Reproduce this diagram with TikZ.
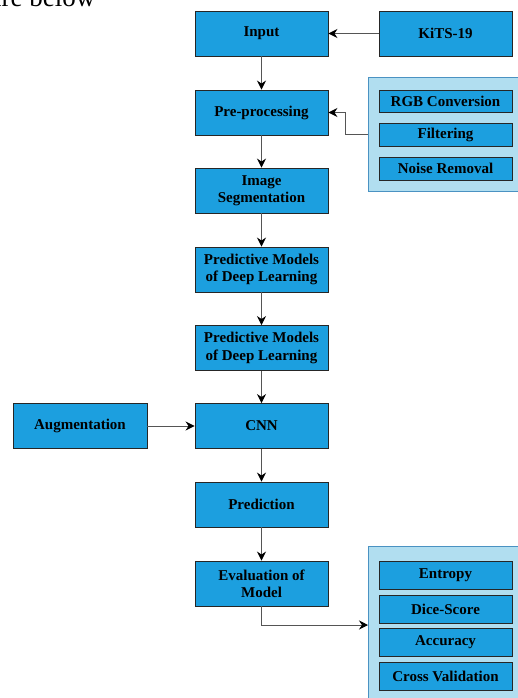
\documentclass[tikz,border=0pt]{standalone}
\usepackage{fontspec}
\setmainfont{Liberation Serif}
\usetikzlibrary{arrows.meta}
\definecolor{boxblue}{HTML}{1C9FDF}
\definecolor{panelblue}{HTML}{B1DEF0}
\definecolor{paneledge}{HTML}{4A92C2}
\definecolor{linegray}{HTML}{555555}
\begin{document}
\begin{tikzpicture}[x=1pt,y=-1pt,
  blk/.style={draw=black!85,line width=0.9pt,fill=boxblue,minimum width=133pt,minimum height=45pt,
    inner sep=1pt,align=center,font=\fontsize{15}{17.3}\selectfont\bfseries},
  sub/.style={draw=black!85,line width=0.9pt,fill=boxblue,minimum width=133pt,inner sep=0pt,
    align=center,font=\fontsize{15}{17}\selectfont\bfseries},
  panel/.style={draw=paneledge,line width=1pt,fill=panelblue,inner sep=0pt},
  conn/.style={draw=linegray,line width=0.9pt,-{Stealth[length=9pt,width=9pt,inset=3pt,color=black]}}]
\useasboundingbox (0,0) rectangle (518,698);
\clip (0,0) rectangle (518,698);
% cut-off page text
\node[anchor=base west,inner sep=0pt,font=\fontsize{27}{30}\selectfont] (pagetext) at (-12,7) {ure below};
% panels
\node[panel,minimum width=156pt,minimum height=113.5pt] (panelA) at (446,134.75) {};
\node[panel,minimum width=156pt,minimum height=160pt] (panelB) at (446,626) {};
% main column
\node[blk] (input) at (261.5,33.5) {Input};
\node[blk] (kits) at (445.5,33.5) {KiTS-19};
\node[blk] (pre) at (261.5,112.5) {Pre-processing};
\node[blk] (seg) at (261.5,190.5) {Image\\Segmentation};
\node[blk] (pm1) at (261.5,269.5) {Predictive Models\\of Deep Learning};
\node[blk] (pm2) at (261.5,348) {Predictive Models\\of Deep Learning};
\node[blk] (cnn) at (261.5,426) {CNN};
\node[blk,minimum width=134pt] (aug) at (80,426) {Augmentation};
\node[blk] (pred) at (261.5,504.5) {Prediction};
\node[blk] (eval) at (261.5,583.5) {Evaluation of\\Model};
% sub boxes
\node[sub,minimum height=22pt] (rgb) at (445.5,101) {RGB Conversion};
\node[sub,minimum height=23pt] (filt) at (445.5,134.5) {Filtering};
\node[sub,minimum height=23pt] (noise) at (445.5,168.5) {Noise Removal};
\node[sub,minimum height=28pt] (ent) at (445.5,575) {Entropy};
\node[sub,minimum height=28pt] (dice) at (445.5,609) {Dice-Score};
\node[sub,minimum height=28pt] (acc) at (445.5,642) {Accuracy};
\node[sub,minimum height=28pt] (cross) at (445.5,676) {Cross Validation};
\coordinate (evin) at (368,625);
% connectors
\draw[conn] (kits) -- (input);
\draw[conn] (input) -- (pre);
\draw[conn] (pre) -- (seg);
\draw[conn] (seg) -- (pm1);
\draw[conn] (pm1) -- (pm2);
\draw[conn] (pm2) -- (cnn);
\draw[conn] (aug) -- (cnn);
\draw[conn] (cnn) -- (pred);
\draw[conn] (pred) -- (eval);
\draw[conn] (panelA.west) -- ++(-22,0) |- (pre.east);
\draw[conn] (eval.south) |- (evin);
\end{tikzpicture}
\end{document}
